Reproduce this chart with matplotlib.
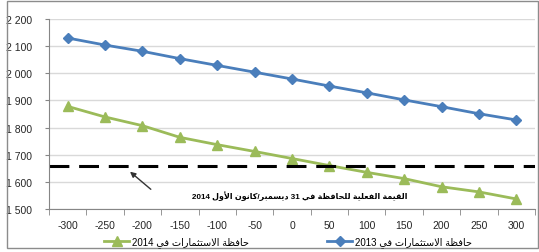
import re
import matplotlib
matplotlib.use('Agg')
import matplotlib.pyplot as plt
from matplotlib.patches import Rectangle
from matplotlib.ticker import FuncFormatter, FixedLocator

# data
shocks = [-300, -250, -200, -150, -100, -50, 0, 50, 100, 150, 200, 250, 300]
portfolio_2013 = [2130, 2104, 2081, 2054, 2029, 2004, 1979, 1953, 1928, 1902, 1877, 1851, 1828]
portfolio_2014 = [1878, 1839, 1807, 1764, 1737, 1712, 1686, 1660, 1635, 1612, 1582, 1563, 1537]
actual_value_2014 = 1660

label_2013 = 'حافظة الاستثمارات في 2013'
label_2014 = 'حافظة الاستثمارات في 2014'
note_text = 'القيمة الفعلية للحافظة في 31 ديسمبر/كانون الأول 2014'

# minimal arabic shaping + rtl ordering (matplotlib does neither)
dual_base = {'ب': 0xFE8F, 'ت': 0xFE95, 'ث': 0xFE99, 'ج': 0xFE9D, 'ح': 0xFEA1,
             'خ': 0xFEA5, 'س': 0xFEB1, 'ش': 0xFEB5, 'ص': 0xFEB9, 'ض': 0xFEBD,
             'ط': 0xFEC1, 'ظ': 0xFEC5, 'ع': 0xFEC9, 'غ': 0xFECD, 'ف': 0xFED1,
             'ق': 0xFED5, 'ك': 0xFED9, 'ل': 0xFEDD, 'م': 0xFEE1, 'ن': 0xFEE5,
             'ه': 0xFEE9, 'ي': 0xFEF1}
right_base = {'ا': 0xFE8D, 'أ': 0xFE83, 'إ': 0xFE87, 'آ': 0xFE81, 'د': 0xFEA9,
              'ذ': 0xFEAB, 'ر': 0xFEAD, 'ز': 0xFEAF, 'و': 0xFEED, 'ة': 0xFE93,
              'ى': 0xFEEF}
lam_alef = {'ا': 0xFEFB, 'أ': 0xFEF7, 'إ': 0xFEF9, 'آ': 0xFEF5}


def ar(s):
    out = []
    i = 0
    prev_joins = False
    while i < len(s):
        c = s[i]
        nxt = s[i + 1] if i + 1 < len(s) else ''
        if c == 'ل' and nxt in lam_alef:
            out.append(chr(lam_alef[nxt] + (1 if prev_joins else 0)))
            prev_joins = False
            i += 2
            continue
        if c in dual_base:
            joins_next = nxt in dual_base or nxt in right_base
            if prev_joins and joins_next:
                form = 3
            elif prev_joins:
                form = 1
            elif joins_next:
                form = 2
            else:
                form = 0
            out.append(chr(dual_base[c] + form))
            prev_joins = True
        elif c in right_base:
            out.append(chr(right_base[c] + (1 if prev_joins else 0)))
            prev_joins = False
        else:
            out.append(c)
            prev_joins = False
        i += 1
    vis = ''.join(reversed(out))
    return re.sub(r'[0-9]+', lambda m: m.group(0)[::-1], vis)


plt.rcParams['font.family'] = ['Liberation Sans', 'DejaVu Sans']

fig = plt.figure(figsize=(5.39, 2.53), dpi=100)
ax = fig.add_axes([49 / 539, 1 - 210 / 253, 486 / 539, 190 / 253])

# outer frame
fig.patches.append(Rectangle((7 / 539, 1 - 249 / 253), 531 / 539, 247 / 253,
                             transform=fig.transFigure, fill=False,
                             edgecolor='#8c8c8c', lw=1.0))

x = list(range(len(shocks)))
ax.plot(x, portfolio_2014, color='#9BBB59', lw=2, marker='^', ms=7,
        label=ar(label_2014))
ax.plot(x, portfolio_2013, color='#4A7EBB', lw=2, marker='D', ms=5.5,
        label=ar(label_2013))
ax.axhline(actual_value_2014, color='black', lw=2.2, dashes=(6.5, 3.2))

ax.set_xlim(-0.5, len(shocks) - 0.5)
ax.set_ylim(1500, 2200)
ax.set_yticks(range(1500, 2201, 100))
ax.yaxis.set_major_formatter(FuncFormatter(lambda v, p: '{:,}'.format(int(v)).replace(',', ' ')))
ax.set_xticks(x)
ax.set_xticklabels([str(s) for s in shocks])
ax.xaxis.set_minor_locator(FixedLocator([i - 0.5 for i in range(len(shocks) + 1)]))
ax.tick_params(axis='x', which='major', length=0, pad=8, labelsize=7.5, colors='#262626')
ax.tick_params(axis='x', which='minor', length=4, color='#868686')
ax.tick_params(axis='y', length=3, color='#868686', pad=9, labelsize=7.5, labelcolor='#262626')

ax.grid(axis='y', color='#d9d9d9', lw=1)
ax.set_axisbelow(True)
for side in ('top', 'right'):
    ax.spines[side].set_visible(False)
for side in ('left', 'bottom'):
    ax.spines[side].set_color('#868686')

ax.annotate('', xy=(1.61, 1644), xytext=(2.28, 1566),
            arrowprops=dict(arrowstyle='-|>', color='#333333', lw=1,
                            mutation_scale=8))
ax.text(9.1, 1551, ar(note_text), ha='right', va='center', fontsize=5.8,
        fontweight='bold', color='black')

fig.legend(loc='center', bbox_to_anchor=(288 / 539, 1 - 243 / 253), ncol=2,
           frameon=False, fontsize=7, handlelength=2.6, columnspacing=8,
           handletextpad=0.3)

fig.savefig('out.png', dpi=100)
